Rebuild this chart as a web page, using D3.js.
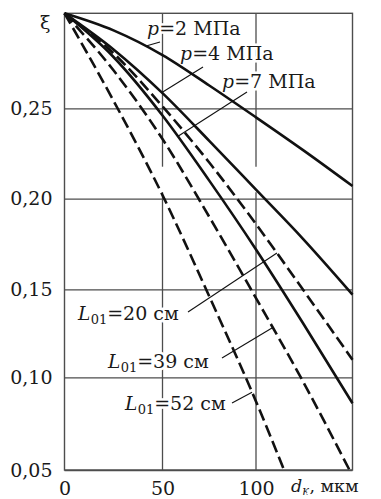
<!DOCTYPE html>
<html>
<head>
<meta charset="utf-8">
<script src="https://cdn.jsdelivr.net/npm/d3@7/dist/d3.min.js"></script>
<style>
  body { margin: 0; background: #fff; }
  text { font-family: "DejaVu Serif", serif; fill: #1a1a1a; }
</style>
</head>
<body>
<div id="chart"></div>
<script>
// d_k, um  vs  xi
const dSolid = [0, 25, 50, 75, 100, 125, 151.6];
const xiP2  = [0.300, 0.291, 0.278, 0.262, 0.245, 0.227, 0.207];
const xiP4  = [0.300, 0.281, 0.258, 0.232, 0.205, 0.178, 0.147];
const xiP7  = [0.300, 0.277, 0.246, 0.210, 0.172, 0.131, 0.086];
const xiL20 = [0.300, 0.279, 0.251, 0.220, 0.186, 0.150, 0.110];
const dL39  = [0, 25, 50, 75, 100, 125, 150];
const xiL39 = [0.300, 0.270, 0.233, 0.190, 0.145, 0.098, 0.050];
const dL52  = [0, 25, 50, 75, 100, 115];
const xiL52 = [0.300, 0.254, 0.202, 0.146, 0.087, 0.050];

const xTicks = [0, 50, 100];
const yTicks = [0.05, 0.10, 0.15, 0.20, 0.25];
const yTickLabels = ["0,05", "0,10", "0,15", "0,20", "0,25"];
const vGridGap = [0.2035, 0.2177];

const W = 381, H = 499;
const svg = d3.select("#chart").append("svg")
    .attr("width", W).attr("height", H);

// the printed axes are slightly uneven, so piecewise scales
const x = d3.scaleLinear()
    .domain([0, 50, 100, 151.6])
    .range([64.5, 162.5, 256, 352.5]);
const y = d3.scaleLinear()
    .domain([0.05, 0.10, 0.15, 0.20, 0.25, 0.30])
    .range([470, 377.3, 289.3, 198.7, 108.3, 13.3]);

const gridColor = "#4d4d4d";
const x0 = x(0), x1 = x(151.6), yB = y(0.05), yT = y(0.30);

// horizontal grid + y labels
const gy = svg.append("g")
    .attr("transform", "translate(" + x0 + ",0)")
    .call(d3.axisLeft(y).tickValues(yTicks)
        .tickSize(-(x1 - x0)).tickPadding(12)
        .tickFormat((d, i) => yTickLabels[i]));
gy.select(".domain").remove();
gy.selectAll("line").attr("stroke", gridColor).attr("stroke-width", 1.3);
gy.selectAll("text")
    .style("font-family", "DejaVu Serif").style("font-size", "19px")
    .attr("fill", "#1a1a1a");

// x labels
const gx = svg.append("g")
    .attr("transform", "translate(0," + yB + ")")
    .call(d3.axisBottom(x).tickValues(xTicks).tickSize(0).tickPadding(12));
gx.select(".domain").remove();
gx.selectAll("text")
    .style("font-family", "DejaVu Serif").style("font-size", "19px")
    .attr("fill", "#1a1a1a");

// vertical grid lines (with the break seen in the print)
xTicks.filter(t => t > 0).forEach(t => {
  [[0.05, vGridGap[0]], [vGridGap[1], 0.30]].forEach(seg => {
    svg.append("line")
        .attr("x1", x(t)).attr("x2", x(t))
        .attr("y1", y(seg[0])).attr("y2", y(seg[1]))
        .attr("stroke", gridColor).attr("stroke-width", 1.3);
  });
});

// frame
svg.append("rect")
    .attr("x", x0).attr("y", yT)
    .attr("width", x1 - x0).attr("height", yB - yT)
    .attr("fill", "none").attr("stroke", gridColor).attr("stroke-width", 1.4);

// labels (white halo breaks the grid behind them)
function label(px, py, parts, fs) {
  const t = svg.append("text")
      .attr("x", px).attr("y", py)
      .style("font-size", (fs || 19) + "px")
      .attr("stroke", "#fff").attr("stroke-width", 5)
      .attr("paint-order", "stroke");
  parts.forEach(p => {
    const s = t.append("tspan").text(p.t);
    if (p.i) s.style("font-style", "italic");
    if (p.fs) s.style("font-size", p.fs + "px");
    if (p.dy) s.attr("dy", p.dy);
  });
  return t;
}

label(40, 29, [{t: "ξ"}]);
label(291, 492, [{t: "d", i: 1}, {t: "к", i: 1, fs: 12, dy: 3}, {t: ", мкм", dy: -3}], 17.5);

const curves = [
  {d: dSolid, xi: xiP2,  dash: null, name: "p2"},
  {d: dSolid, xi: xiP4,  dash: null, name: "p4"},
  {d: dSolid, xi: xiP7,  dash: null, name: "p7"},
  {d: dSolid, xi: xiL20, dash: "12,5", name: "L20"},
  {d: dL39,   xi: xiL39, dash: "12,5", name: "L39"},
  {d: dL52,   xi: xiL52, dash: "12,5", name: "L52"}
];

const notes = [
  {name: "p2",  at: 41.6, lx: 147, ly: 35,  ex: 160, ey: 42,
   parts: [{t: "p", i: 1}, {t: "=2 МПа"}]},
  {name: "p4",  at: 49.7, lx: 180, ly: 60,  ex: 203, ey: 67,
   parts: [{t: "p", i: 1}, {t: "=4 МПа"}]},
  {name: "p7",  at: 58.3, lx: 222, ly: 88,  ex: 247, ey: 92,
   parts: [{t: "p", i: 1}, {t: "=7 МПа"}]},
  {name: "L20", at: 111.2, lx: 78, ly: 320, ex: 188, ey: 312,
   parts: [{t: "L", i: 1}, {t: "01", fs: 13, dy: 4}, {t: "=20 см", dy: -4}]},
  {name: "L39", at: 109, lx: 108, ly: 368, ex: 222, ey: 358,
   parts: [{t: "L", i: 1}, {t: "01", fs: 13, dy: 4}, {t: "=39 см", dy: -4}]},
  {name: "L52", at: 97.9, lx: 125, ly: 410, ex: 232, ey: 403,
   parts: [{t: "L", i: 1}, {t: "01", fs: 13, dy: 4}, {t: "=52 см", dy: -4}]}
];

notes.forEach(n => label(n.lx, n.ly, n.parts));

const line = d3.line()
    .x(p => x(p[0])).y(p => y(p[1]))
    .curve(d3.curveMonotoneX);

const paths = {};
curves.forEach(c => {
  const pts = c.d.map((d, i) => [d, c.xi[i]]);
  paths[c.name] = svg.append("path")
      .attr("d", line(pts))
      .attr("fill", "none")
      .attr("stroke", "#111")
      .attr("stroke-width", 2.6)
      .attr("stroke-dasharray", c.dash)
      .node();
});

// point of a drawn curve at a given d
function pointAt(node, dv) {
  const px = x(dv);
  let lo = 0, hi = node.getTotalLength();
  for (let k = 0; k < 40; k++) {
    const mid = (lo + hi) / 2;
    if (node.getPointAtLength(mid).x < px) lo = mid; else hi = mid;
  }
  return node.getPointAtLength(lo);
}

notes.forEach(n => {
  const p = pointAt(paths[n.name], n.at);
  svg.append("line")
      .attr("x1", p.x).attr("y1", p.y)
      .attr("x2", n.ex).attr("y2", n.ey)
      .attr("stroke", "#111").attr("stroke-width", 1.1);
});
</script>
</body>
</html>
